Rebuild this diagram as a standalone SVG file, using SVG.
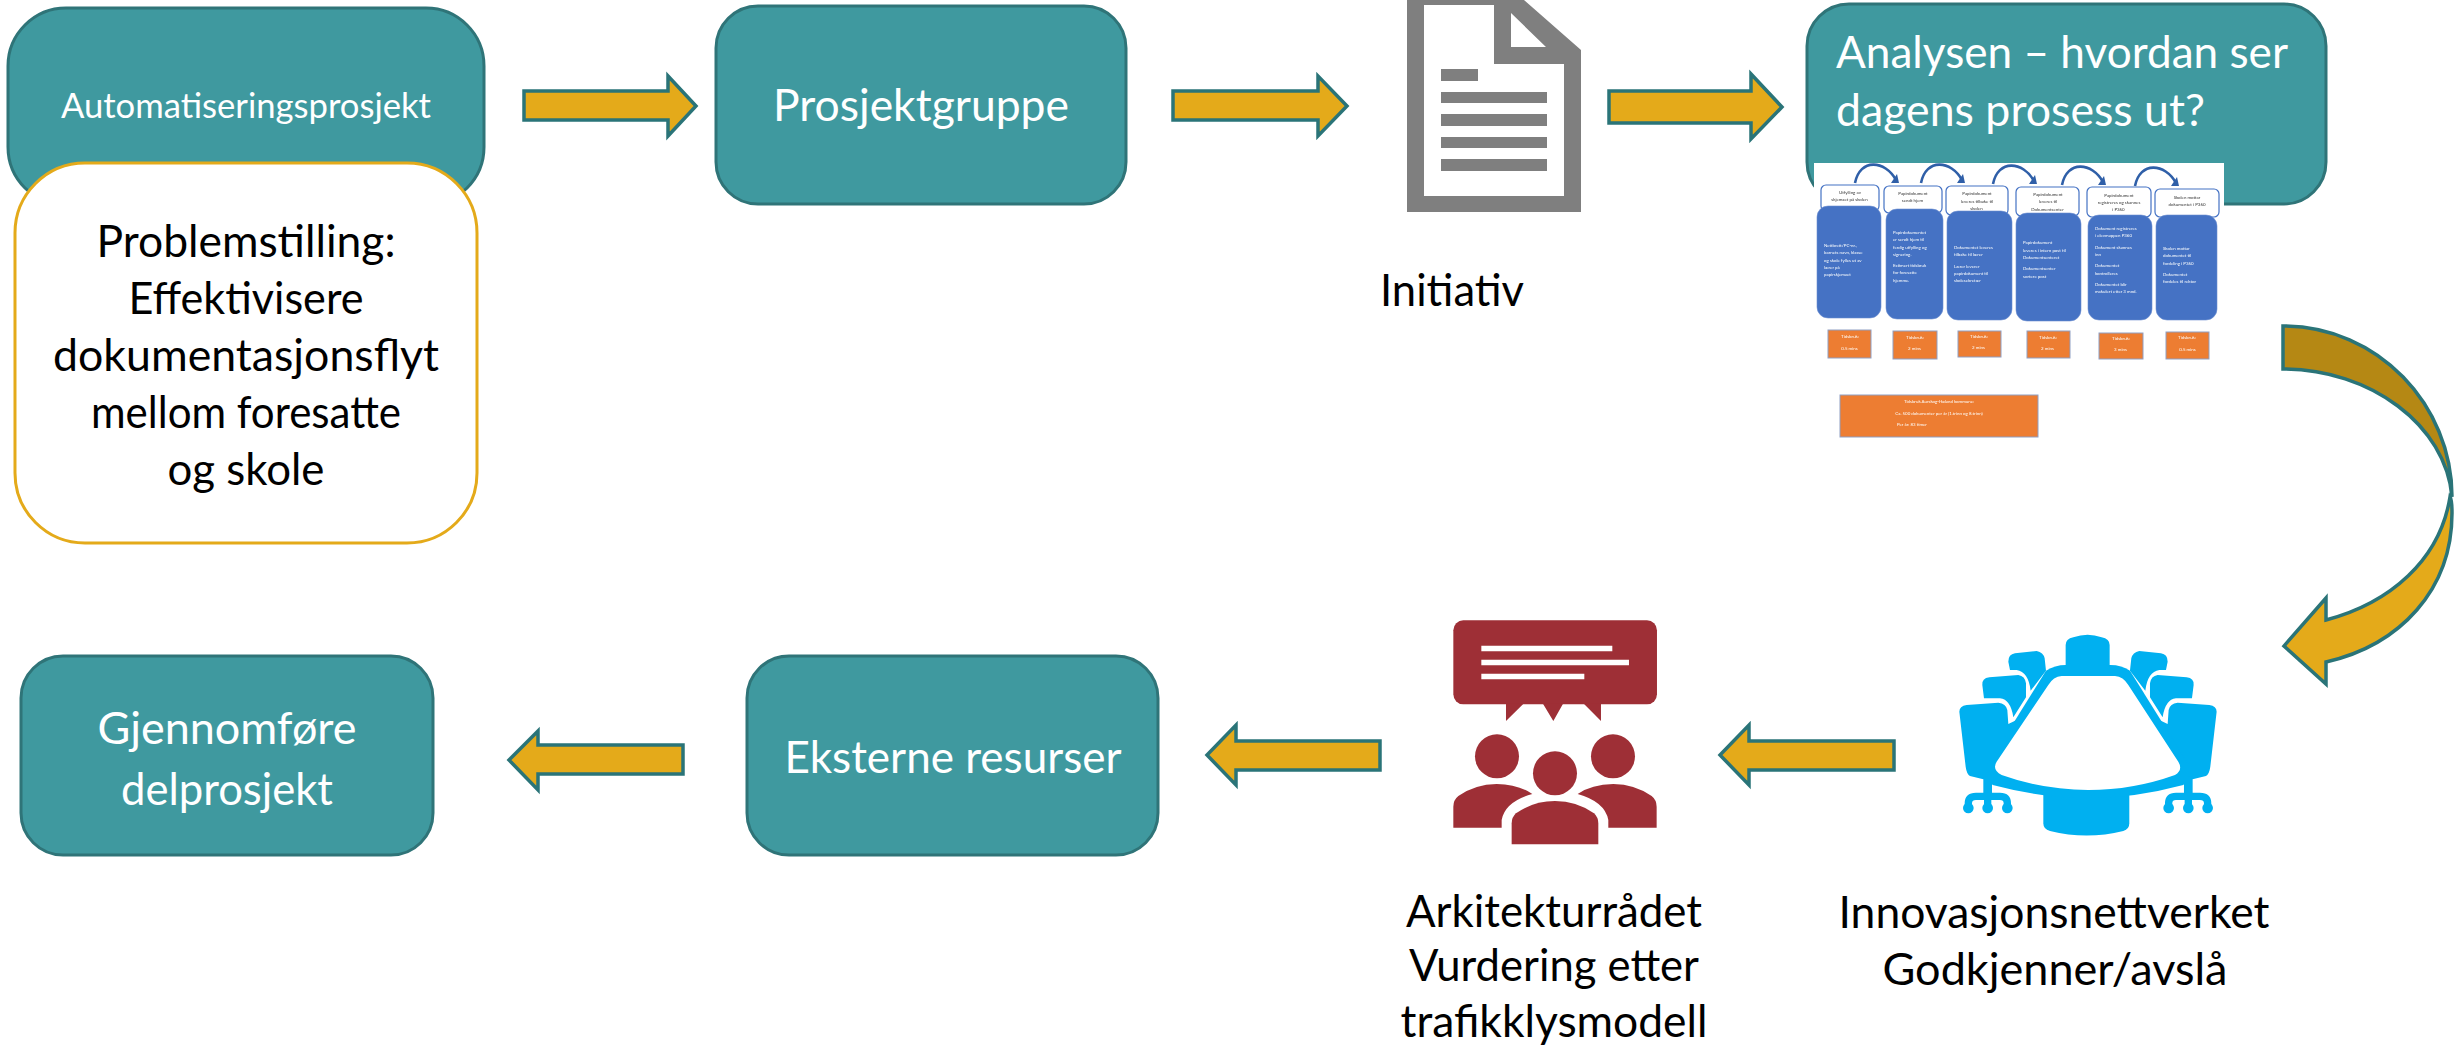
<svg xmlns="http://www.w3.org/2000/svg" width="2458" height="1045" viewBox="0 0 2458 1045">
<defs>
<style>
text{font-family:"Lato","Open Sans","Liberation Sans",sans-serif}
.box{fill:#3f999f;stroke:#2f7478;stroke-width:3}
.arr{fill:#e4aa1a;stroke:#2a7478;stroke-width:3.5}
.w{fill:#fff;font-size:44px}
.k{fill:#000;font-size:44px}
.hd{fill:#fff;stroke:#4472c4;stroke-width:1.2}
.bd{fill:#4472c4;stroke:#6f8fd0;stroke-width:.6}
.or{fill:#ed7d31;stroke:#8f9fc4;stroke-width:1}
.t{font-size:4.4px;fill:#333}
.u{font-size:4.4px;fill:#fff}
.ca{fill:none;stroke:#2f5fa8;stroke-width:2.6}
.ch{fill:#2f5fa8}
</style>
<filter id="soft" x="-5%" y="-5%" width="110%" height="110%"><feGaussianBlur stdDeviation="0.3"/></filter>
<g id="halfRoom">
<path d="M118 275Q118 258 140 255L235 248Q258 250 262 270L265 312L290 300L300 450L190 478L150 468Q140 462 137 440Z"/>
<path d="M187 195Q185 175 208 172L295 165Q315 168 318 190L318 232L280 292Q272 238 240 235L192 235Z"/>
<path d="M265 125Q265 103 285 100L350 93Q370 97 374 115L378 152L332 212Q325 155 290 150L270 150Z"/>
<rect x="190" y="470" width="26" height="55"/>
<path d="M145 560V550Q145 529 168 529H240Q262 529 262 550V560M203 529V560" fill="none" stroke="#00b0f0" stroke-width="22"/>
<circle cx="145" cy="564" r="16"/><circle cx="203" cy="564" r="16"/><circle cx="262" cy="564" r="16"/>
</g>
</defs>
<rect width="2458" height="1045" fill="#fff"/>
<g id="connectors">
<path class="arr" d="M524 91H668V76L696 106L668 136V120H524Z"/>
<path class="arr" d="M1173 91H1318V76L1347 106L1318 136V120H1173Z"/>
<path class="arr" d="M1609 91H1751V74L1782 107L1751 139V123H1609Z"/>
<path id="bigcurve1" d="M2283 326C2378 326 2452 405 2452 497C2446 425 2370 369 2283 369Z" fill="#b58814" stroke="#2a7478" stroke-width="3.5"/>
<path id="bigcurve2" d="M2450 497C2452 500 2452 505 2452 513C2452 590 2400 645 2326 662V684L2284 646L2326 598V620C2390 603 2440 560 2450 497Z" class="arr"/>
<path class="arr" d="M1894 741H1749V725L1720 755L1749 785V770H1894Z"/>
<path class="arr" d="M1380 741H1236V725L1207 755L1236 785V770H1380Z"/>
<path class="arr" d="M683 745H538V731L509 760L538 790V774H683Z"/>
</g>
<g id="n-automatisering"><rect class="box" x="8" y="8" width="476" height="197" rx="58"/>
<text class="w" x="246" y="118" text-anchor="middle" style="font-size:35px" textLength="370" lengthAdjust="spacingAndGlyphs">Automatiseringsprosjekt</text></g>
<g id="n-problem"><rect x="15" y="163" width="462" height="380" rx="70" fill="#fff" stroke="#e4aa1a" stroke-width="3"/>
<text class="k" x="246" y="257" text-anchor="middle" textLength="299" lengthAdjust="spacingAndGlyphs">Problemstilling:</text>
<text class="k" x="246" y="314" text-anchor="middle" textLength="235" lengthAdjust="spacingAndGlyphs">Effektivisere</text>
<text class="k" x="246" y="371" text-anchor="middle" textLength="386" lengthAdjust="spacingAndGlyphs">dokumentasjonsflyt</text>
<text class="k" x="246" y="428" text-anchor="middle" textLength="310" lengthAdjust="spacingAndGlyphs">mellom foresatte</text>
<text class="k" x="246" y="485" text-anchor="middle" textLength="157" lengthAdjust="spacingAndGlyphs">og skole</text></g>
<g id="n-prosjektgruppe"><rect class="box" x="716" y="6" width="410" height="198" rx="42"/>
<text class="w" x="921" y="121" text-anchor="middle" textLength="296" lengthAdjust="spacingAndGlyphs">Prosjektgruppe</text></g>
<g id="n-initiativ">
<path fill="#7f7f7f" fill-rule="evenodd" d="M1407 0H1524L1581 50V212H1407ZM1424 5V196H1564V64H1494V5ZM1511 13V47H1546Z"/>
<path fill="#7f7f7f" d="M1441 69h37v12h-37zM1441 92h106v11h-106zM1441 114h106v12h-106zM1441 137h106v11h-106zM1441 159h106v12h-106z"/>
<text class="k" x="1452" y="306" text-anchor="middle" textLength="144" lengthAdjust="spacingAndGlyphs">Initiativ</text></g>
<g id="n-analysen"><rect class="box" x="1807" y="4" width="519" height="200" rx="42"/>
<text class="w" x="1836" y="68" textLength="452" lengthAdjust="spacingAndGlyphs">Analysen – hvordan ser</text>
<text class="w" x="1836" y="126" textLength="369" lengthAdjust="spacingAndGlyphs">dagens prosess ut?</text>
</g>
<g id="n-analyse-bilde">
<rect x="1814" y="163" width="410" height="280" fill="#fff"/>
<path class="ca" d="M1855 183C1860 158 1885 160 1896 180"/><path class="ch" d="M1891 183L1899 183L1897 174Z"/>
<path class="ca" d="M1921 183C1926 158 1951 160 1962 180"/><path class="ch" d="M1957 183L1965 183L1963 174Z"/>
<path class="ca" d="M1993 184C1998 159 2023 161 2034 181"/><path class="ch" d="M2029 184L2037 184L2035 175Z"/>
<path class="ca" d="M2062 185C2067 160 2092 162 2103 182"/><path class="ch" d="M2098 185L2106 185L2104 176Z"/>
<path class="ca" d="M2135 186C2140 161 2165 163 2176 183"/><path class="ch" d="M2171 186L2179 186L2177 177Z"/>
<g filter="url(#soft)">
<rect class="hd" x="1821" y="185" width="58" height="26" rx="5"/>
<rect class="hd" x="1884" y="186" width="58" height="27" rx="5"/>
<rect class="hd" x="1946" y="186" width="62" height="29" rx="5"/>
<rect class="hd" x="2016" y="187" width="63" height="29" rx="5"/>
<rect class="hd" x="2087" y="187" width="64" height="30" rx="5"/>
<rect class="hd" x="2155" y="189" width="64" height="28" rx="5"/>
<rect class="bd" x="1817" y="206" width="64" height="112" rx="11"/>
<rect class="bd" x="1886" y="209" width="57" height="110" rx="11"/>
<rect class="bd" x="1947" y="211" width="65" height="109" rx="11"/>
<rect class="bd" x="2016" y="213" width="65" height="108" rx="11"/>
<rect class="bd" x="2088" y="215" width="64" height="105" rx="11"/>
<rect class="bd" x="2156" y="215" width="61" height="105" rx="11"/>
<rect class="or" x="1828" y="330" width="43" height="28"/>
<rect class="or" x="1893" y="331" width="44" height="28"/>
<rect class="or" x="1958" y="331" width="43" height="26"/>
<rect class="or" x="2027" y="331" width="43" height="27"/>
<rect class="or" x="2099" y="333" width="44" height="26"/>
<rect class="or" x="2166" y="332" width="43" height="27"/>
<rect class="or" x="1840" y="395" width="198" height="42"/>
<text class="t" text-anchor="middle"><tspan x="1850" y="194">Utfylling av</tspan><tspan x="1850" y="201">skjemaet på skolen</tspan>
<tspan x="1913" y="195">Papirdokument</tspan><tspan x="1913" y="202">sendt hjem</tspan>
<tspan x="1977" y="195">Papirdokument</tspan><tspan x="1977" y="203">leveres tilbake til</tspan><tspan x="1977" y="210">skolen</tspan>
<tspan x="2048" y="196">Papirdokument</tspan><tspan x="2048" y="203">leveres til</tspan><tspan x="2048" y="211">Dokumentsenter</tspan>
<tspan x="2119" y="197">Papirdokument</tspan><tspan x="2119" y="204">registreres og skannes</tspan><tspan x="2119" y="211">i P360</tspan>
<tspan x="2187" y="199">Skolen mottar</tspan><tspan x="2187" y="206">dokumentet i P360</tspan></text>
<text class="u"><tspan x="1824" y="247">Nettbrett/PC-nr.,</tspan><tspan x="1824" y="254">barnets navn, klasse</tspan><tspan x="1824" y="262">og skole fylles ut av</tspan><tspan x="1824" y="269">lærer på</tspan><tspan x="1824" y="276">papirskjemaet</tspan>
<tspan x="1893" y="234">Papirdokumentet</tspan><tspan x="1893" y="241">er sendt hjem til</tspan><tspan x="1893" y="249">ferdig utfylling og</tspan><tspan x="1893" y="256">signering.</tspan><tspan x="1893" y="267">Estimert tidsbruk</tspan><tspan x="1893" y="274">for foresatte</tspan><tspan x="1893" y="282">hjemme.</tspan>
<tspan x="1954" y="249">Dokumentet leveres</tspan><tspan x="1954" y="256">tilbake til lærer</tspan><tspan x="1954" y="268">Lærer leverer</tspan><tspan x="1954" y="275">papirdokument til</tspan><tspan x="1954" y="282">skolesekretær</tspan>
<tspan x="2023" y="244">Papirdokument</tspan><tspan x="2023" y="252">leveres i intern post til</tspan><tspan x="2023" y="259">Dokumentsenteret</tspan><tspan x="2023" y="270">Dokumentsenter</tspan><tspan x="2023" y="278">sortere post</tspan>
<tspan x="2095" y="230">Dokument registreres</tspan><tspan x="2095" y="237">i elevmappen P360</tspan><tspan x="2095" y="249">Dokument skannes</tspan><tspan x="2095" y="256">inn</tspan><tspan x="2095" y="267">Dokumentet</tspan><tspan x="2095" y="275">kontrolleres</tspan><tspan x="2095" y="286">Dokumentet blir</tspan><tspan x="2095" y="293">makulert etter 3 mnd.</tspan>
<tspan x="2163" y="250">Skolen mottar</tspan><tspan x="2163" y="257">dokumentet til</tspan><tspan x="2163" y="265">fordeling i P360</tspan><tspan x="2163" y="276">Dokumentet</tspan><tspan x="2163" y="283">fordeles til rektor</tspan></text>
<text class="u" text-anchor="middle"><tspan x="1850" y="338">Tidsbruk:</tspan><tspan x="1850" y="350">0.5 mins</tspan>
<tspan x="1915" y="339">Tidsbruk:</tspan><tspan x="1915" y="350">2 mins</tspan>
<tspan x="1979" y="338">Tidsbruk:</tspan><tspan x="1979" y="349">2 mins</tspan>
<tspan x="2048" y="339">Tidsbruk:</tspan><tspan x="2048" y="350">2 mins</tspan>
<tspan x="2121" y="340">Tidsbruk:</tspan><tspan x="2121" y="351">3 mins</tspan>
<tspan x="2187" y="339">Tidsbruk:</tspan><tspan x="2188" y="351">0.5 mins</tspan>
<tspan x="1939" y="403">Tidsbruk Aurskog-Høland kommune:</tspan><tspan x="1939" y="415">Ca. 500 dokumenter per år (1.trinn og 8.trinn)</tspan></text>
<text class="u" x="1897" y="426">Per år: 83 timer</text>
</g>
</g>
<g id="n-innovasjon"><g transform="translate(1920,620) scale(.3333)" fill="#00b0f0">
<use href="#halfRoom"/>
<use href="#halfRoom" transform="translate(1008,0) scale(-1,1)"/>
<path d="M437 140V75Q437 57 460 52Q503 36 545 52Q569 57 569 75V140Z"/>
<path d="M370 520V610Q370 628 390 633Q500 660 610 633Q628 628 628 610V520Z"/>
<path d="M378 152L205 430Q195 470 218 495Q370 535 504 535Q640 535 790 495Q815 470 803 430L630 152Q605 135 571 135H437Q405 135 378 152Z"/>
<path fill="#fff" d="M385 195Q400 170 425 168H585Q610 170 625 195L775 425Q790 450 765 465Q640 510 505 510Q370 510 245 465Q215 450 230 425Z"/>
</g>
<text class="k" x="2054" y="928" text-anchor="middle" textLength="431" lengthAdjust="spacingAndGlyphs">Innovasjonsnettverket</text>
<text class="k" x="2055" y="985" text-anchor="middle" textLength="345" lengthAdjust="spacingAndGlyphs">Godkjenner/avslå</text></g>
<g id="n-arkitektur"><g transform="translate(1430,610) scale(.3333)" fill="#9e2f36">
<rect x="70" y="31" width="611" height="252" rx="30"/>
<path d="M228 280V333L282 280ZM338 280L370 333L400 280ZM460 280L513 333V280Z"/>
<path fill="#fff" d="M154 107h393v17h-393zM154 149h443v17h-443zM154 191h309v17h-309z"/>
<circle cx="201" cy="439" r="66"/><circle cx="549" cy="439" r="66"/><circle cx="375" cy="490" r="66"/>
<path d="M70 653V590Q70 570 85 558Q135 523 200 522Q265 523 307 552Q225 575 215 630V653Z"/>
<path d="M680 653V590Q680 570 665 558Q615 523 550 522Q485 523 443 552Q525 575 535 630V653Z"/>
<path d="M245 703V640Q245 622 258 610Q310 573 375 573Q440 573 492 610Q505 622 505 640V703Z"/>
</g>
<text class="k" x="1554" y="927" text-anchor="middle" textLength="296" lengthAdjust="spacingAndGlyphs">Arkitekturrådet</text>
<text class="k" x="1554" y="981" text-anchor="middle" textLength="290" lengthAdjust="spacingAndGlyphs">Vurdering etter</text>
<text class="k" x="1554" y="1037" text-anchor="middle" textLength="307" lengthAdjust="spacingAndGlyphs">trafikklysmodell</text></g>
<g id="n-eksterne"><rect class="box" x="747" y="656" width="411" height="199" rx="42"/>
<text class="w" x="953" y="773" text-anchor="middle" textLength="337" lengthAdjust="spacingAndGlyphs">Eksterne resurser</text></g>
<g id="n-gjennomfore"><rect class="box" x="21" y="656" width="412" height="199" rx="42"/>
<text class="w" x="227" y="744" text-anchor="middle" textLength="259" lengthAdjust="spacingAndGlyphs">Gjennomføre</text>
<text class="w" x="227" y="805" text-anchor="middle" textLength="212" lengthAdjust="spacingAndGlyphs">delprosjekt</text></g>
</svg>
